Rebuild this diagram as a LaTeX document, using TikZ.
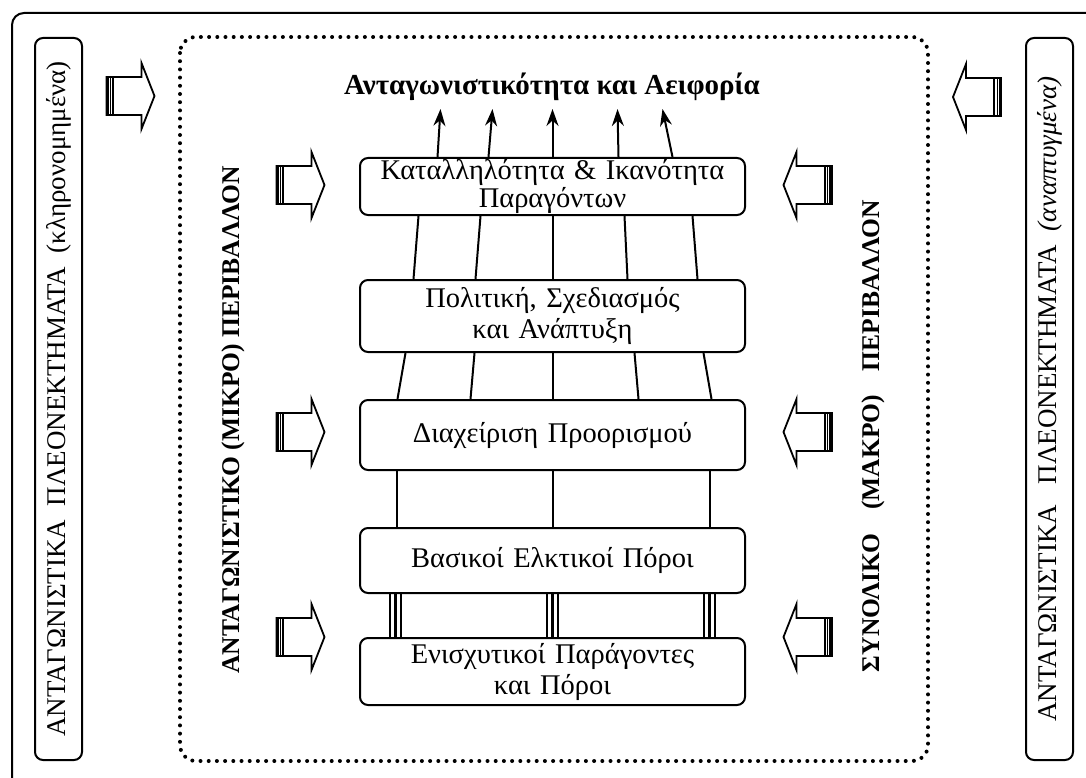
\documentclass[tikz,border=0pt]{standalone}
\usepackage{fontspec}
\setmainfont{Liberation Serif}
\usepackage{tikz}
\usetikzlibrary{positioning,calc,arrows.meta}

\tikzset{
  pics/fatarrow/.style={code={
    \draw[line width=1.8pt,fill=white,line join=miter]
      (-24,-19) -- (11,-19) -- (11,-33) -- (24,0) -- (11,33) -- (11,19) -- (-24,19) -- cycle;
    \fill (-25,-20) rectangle (-21.5,20);
    \fill (-20.6,-20) rectangle (-19.6,20);
    \fill (-18.4,-20) rectangle (-16.2,20);
  }}
}

\begin{document}
\begin{tikzpicture}[x=1pt,y=-1pt,
    box/.style={draw,line width=2pt,rounded corners=8pt,minimum width=385pt,
      text width=380pt,align=center,inner sep=0pt,
      font=\fontsize{28.5}{31}\selectfont},
    sidebox/.style={draw,line width=2pt,rounded corners=8pt,rotate=90,
      minimum width=722pt,minimum height=47pt,inner sep=0pt,
      font=\fontsize{27}{30}\selectfont},
    envtext/.style={rotate=90,font=\fontsize{25.5}{28}\selectfont\bfseries},
    link/.style={line width=2pt},
    upline/.style={line width=2pt,-{Stealth[length=17pt,width=12pt]}}
  ]
  \useasboundingbox (0,0) rectangle (1086,778);
  \clip (0,0) rectangle (1086,778);
  % frames
  \draw[line width=2pt,rounded corners=12pt] (12,13) rectangle (1100,792);
  \draw[line width=4pt,dash pattern=on 0pt off 8.2pt,line cap=round,
    rounded corners=16pt] (180,37) rectangle (928,761);

  \node[sidebox] (inherited) at (58.5,399)
    {ΑΝΤΑΓΩΝΙΣΤΙΚΑ\ \ ΠΛΕΟΝΕΚΤΗΜΑΤΑ\ \ (κληρονομημένα)};
  \node[sidebox] (developed) at (1049.5,399)
    {ΑΝΤΑΓΩΝΙΣΤΙΚΑ\ \ \ ΠΛΕΟΝΕΚΤΗΜΑΤΑ\ \ \textit{(αναπτυγμένα)}};

  \node[envtext] (micro) at (233,420) {ΑΝΤΑΓΩΝΙΣΤΙΚΟ (ΜΙΚΡΟ) ΠΕΡΙΒΑΛΛΟΝ};
  \node[envtext] (macro) at (873,436)
    {ΣΥΝΟΛΙΚΟ\hspace{24pt}(ΜΑΚΡΟ)\hspace{24pt}ΠΕΡΙΒΑΛΛΟΝ};

  \node[font=\fontsize{29}{32}\selectfont\bfseries] (goal) at (552,87)
    {Ανταγωνιστικότητα και Αειφορία};

  % the five levels
  \node[box,minimum height=57pt,font=\fontsize{28.5}{25}\selectfont] (b1) at (552.5,186.5)
    {Καταλληλότητα \& Ικανότητα\\Παραγόντων};
  \node[box,minimum height=72pt] (b2) at (552.5,316)
    {Πολιτική, Σχεδιασμός\\και Ανάπτυξη};
  \node[box,minimum height=70pt] (b3) at (552.5,435) {Διαχείριση Προορισμού};
  \node[box,minimum height=65pt] (b4) at (552.5,560.5) {Βασικοί Ελκτικοί Πόροι};
  \node[box,minimum height=67pt] (b5) at (552.5,671.5)
    {Ενισχυτικοί Παράγοντες\\και Πόροι};

  % links
  \foreach \a/\b in {-115/-112,-64/-60,0/0,66/65,120/110}
    \draw[upline] ([xshift=\a pt]b1.north) -- ([xshift=\b pt,yshift=48pt]b1.north);
  \foreach \a/\b in {-134/-139,-72/-77,0/0,72/75,140/145}
    \draw[link] ([xshift=\a pt]b1.south) -- ([xshift=\b pt]b2.north);
  \foreach \a/\b in {-147/-155,-78/-82,0/0,82/86,151/159}
    \draw[link] ([xshift=\a pt]b2.south) -- ([xshift=\b pt]b3.north);
  \foreach \a in {-156,0,157}
    \draw[link] ([xshift=\a pt]b3.south) -- ([xshift=\a pt]b4.north);
  \foreach \a in {-157,0,157}
    \foreach \d in {-5.5,0,5.5}
      \draw[line width=2.5pt] ([xshift=\a pt,xshift=\d pt]b4.south)
        -- ([xshift=\a pt,xshift=\d pt]b5.north);

  % influence arrows
  \pic at (130.5,96) {fatarrow};
  \pic[xscale=-1] at (977,97) {fatarrow};
  \foreach \y in {185,432,637} {
    \pic at (300.5,\y) {fatarrow};
    \pic[xscale=-1] at (807.5,\y) {fatarrow};
  }
\end{tikzpicture}
\end{document}
